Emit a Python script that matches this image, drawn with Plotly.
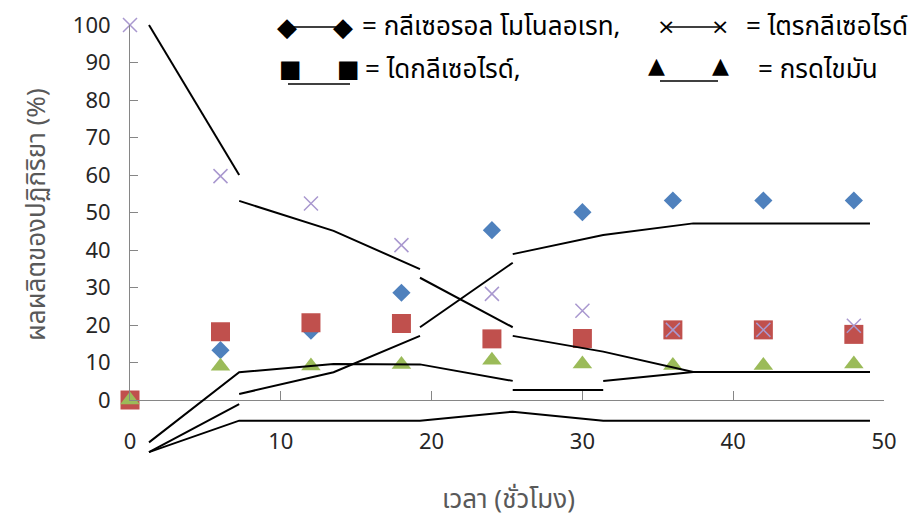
import plotly.graph_objects as go

# Reaction time (hours) of the sampled points
hours = [0, 6, 12, 18, 24, 30, 36, 42, 48]

# Product yields (%) at each sampling time
monolaurate = [0, 13.3, 18.5, 28.6, 45.3, 50.1, 53.2, 53.2, 53.2]
diglyceride = [0, 18.2, 20.6, 20.4, 16.3, 16.4, 18.7, 18.7, 17.5]
triglyceride = [100, 59.7, 52.4, 41.3, 28.3, 23.8, 18.7, 18.7, 19.8]
fatty_acid = [0, 9.0, 9.1, 9.5, 10.6, 9.6, 9.2, 9.2, 9.6]

# Fitted curves (drawn as broken polylines; None separates the pieces)
fit_mono_t = [1.26, 7.24, None, 7.24, 13.5, 19.23, None, 19.23, 25.38, None, 25.38, 31.38, 37.35, 43.4, 49.07]
fit_mono_y = [-13.9, -1.1, None, 1.6, 7.4, 17.1, None, 19.4, 36.6, None, 38.9, 44.0, 47.1, 47.1, 47.1]

fit_tri_t = [1.26, 7.24, None, 7.24, 13.5, 19.23, None, 19.23, 25.38, None, 25.38, 31.38, 37.35, 43.4, 49.07]
fit_tri_y = [100, 60.0, None, 53.1, 45.1, 34.9, None, 32.6, 19.4, None, 17.1, 12.9, 7.5, 7.5, 7.5]

fit_fa_t = [1.26, 7.24, 13.5, 19.23, 25.38, None, 25.38, 31.38, None, 31.38, 37.35, 43.4, 49.07]
fit_fa_y = [-11.3, 7.4, 9.6, 9.5, 5.1, None, 2.7, 2.7, None, 5.1, 7.5, 7.5, 7.5]

fit_di_t = [1.26, 7.24, 13.5, 19.23, 25.38, 31.38, 37.35, 43.4, 49.07]
fit_di_y = [-13.9, -5.5, -5.5, -5.5, -3.1, -5.5, -5.5, -5.5, -5.5]

x_ticks = [0, 10, 20, 30, 40, 50]
y_ticks = [0, 10, 20, 30, 40, 50, 60, 70, 80, 90, 100]

x_title = "เวลา (ชั่วโมง)"
y_title = "ผลผลิตของปฏิกิริยา (%)"
key_labels = ["= กลีเซอรอล โมโนลอเรท,", "= ไตรกลีเซอไรด์", "= ไดกลีเซอไรด์,", "= กรดไขมัน"]

# ---- layout geometry (pixels) ----
W, H = 915, 523
X0_PX, X1_PX = 130, 884      # x = 0 and x = 50
Y0_PX, Y1_PX = 400, 25       # y = 0 and y = 100
X_RANGE = [0, 50]
Y_RANGE = [0, 100]

sx = (X1_PX - X0_PX) / (X_RANGE[1] - X_RANGE[0])
sy = (Y0_PX - Y1_PX) / (Y_RANGE[1] - Y_RANGE[0])

# full-figure overlay axes using the same data units as the main axes
x2_range = [X_RANGE[0] - X0_PX / sx, X_RANGE[0] + (W - X0_PX) / sx]
y2_range = [Y_RANGE[0] - (H - Y0_PX) / sy, Y_RANGE[0] + Y0_PX / sy]

NUM_FONT = "Noto Sans"
THAI_FONT = "Noto Sans Thai, Noto Sans, sans-serif"
AXIS_GREY = "#868686"

fig = go.Figure()

marker_kw = dict(mode="markers", cliponaxis=False, showlegend=False, hoverinfo="skip")
fig.add_trace(go.Scatter(x=hours, y=monolaurate, marker=dict(symbol="diamond", size=14, color="#4F81BD"), **marker_kw))
fig.add_trace(go.Scatter(x=hours, y=diglyceride, marker=dict(symbol="square", size=19, color="#C0504D"), **marker_kw))
fig.add_trace(go.Scatter(x=hours, y=fatty_acid, marker=dict(symbol="triangle-up", size=17, color="#9BBB59"), **marker_kw))
fig.add_trace(go.Scatter(x=hours, y=triglyceride,
                         marker=dict(symbol="x-thin-open", size=14, color="#A998CF",
                                     line=dict(color="#A998CF", width=1.5)), **marker_kw))

line_kw = dict(mode="lines", xaxis="x2", yaxis="y2", showlegend=False, hoverinfo="skip",
               line=dict(color="black", width=2), connectgaps=False)
for tx, ty in [(fit_mono_t, fit_mono_y), (fit_tri_t, fit_tri_y),
               (fit_fa_t, fit_fa_y), (fit_di_t, fit_di_y)]:
    fig.add_trace(go.Scatter(x=tx, y=ty, **line_kw))

fig.update_layout(
    template="none",
    width=W, height=H,
    margin=dict(l=0, r=0, t=0, b=0, pad=0, autoexpand=False),
    paper_bgcolor="white", plot_bgcolor="rgba(0,0,0,0)",
    xaxis=dict(domain=[X0_PX / W, X1_PX / W], range=X_RANGE, tickvals=x_ticks, automargin=False,
               showgrid=False, zeroline=False, showline=True, linecolor=AXIS_GREY, linewidth=1,
               ticks="inside", ticklen=9, tickcolor=AXIS_GREY, tickwidth=1,
               ticklabelstandoff=22, tickfont=dict(family=NUM_FONT, size=22, color="#262626")),
    yaxis=dict(domain=[1 - Y0_PX / H, 1 - Y1_PX / H], range=Y_RANGE, tickvals=y_ticks, automargin=False,
               showgrid=False, zeroline=False, showline=True, linecolor=AXIS_GREY, linewidth=1,
               ticks="inside", ticklen=8, tickcolor=AXIS_GREY, tickwidth=1,
               ticklabelstandoff=14, tickfont=dict(family=NUM_FONT, size=22, color="#262626")),
    xaxis2=dict(domain=[0, 1], range=x2_range, visible=False, anchor="y2", automargin=False),
    yaxis2=dict(domain=[0, 1], range=y2_range, visible=False, anchor="x2", automargin=False),
)

# axis titles
fig.add_annotation(text=x_title, xref="paper", yref="paper", x=508 / W, y=1 - 500 / H,
                   xanchor="center", yanchor="middle",
                   showarrow=False, font=dict(family=THAI_FONT, size=26, color="#595959"))
fig.add_annotation(text=y_title, xref="paper", yref="paper", x=37 / W, y=1 - 215 / H,
                   xanchor="center", yanchor="middle",
                   textangle=-90, showarrow=False, font=dict(family=THAI_FONT, size=26, color="#595959"))

# key drawn at the top of the chart
def px(xp, yp):
    return xp / W, 1 - yp / H

def glyph(ch, xp, yp, size):
    gx, gy = px(xp, yp)
    fig.add_annotation(text=ch, xref="paper", yref="paper", x=gx, y=gy, showarrow=False,
                       xanchor="center", yanchor="middle",
                       font=dict(family="DejaVu Sans", size=size, color="black"))

def key_text(t, xp, yp):
    gx, gy = px(xp, yp)
    fig.add_annotation(text=t, xref="paper", yref="paper", x=gx, y=gy, xanchor="left",
                       yanchor="middle",
                       showarrow=False, font=dict(family=THAI_FONT, size=26, color="black"))

def key_line(xa, ya, xb, yb):
    (ax, ay), (bx, by) = px(xa, ya), px(xb, yb)
    fig.add_shape(type="line", xref="paper", yref="paper", x0=ax, y0=ay, x1=bx, y1=by,
                  line=dict(color="black", width=1.5))

# row 1
key_line(287, 27, 343, 27)
glyph("◆", 287, 27, 26)
glyph("◆", 343, 27, 26)
key_text(key_labels[0], 360, 27)
key_line(666, 27, 720, 27)
glyph("×", 666, 27, 22)
glyph("×", 720, 27, 22)
key_text(key_labels[1], 744, 27)
# row 2
key_line(288, 84, 350, 84)
glyph("■", 290, 69, 24)
glyph("■", 348, 69, 24)
key_text(key_labels[2], 363, 70)
key_line(660, 81, 718, 81)
glyph("▲", 656, 65, 22)
glyph("▲", 720, 65, 22)
key_text(key_labels[3], 756, 70)

fig.write_html("out.html")
